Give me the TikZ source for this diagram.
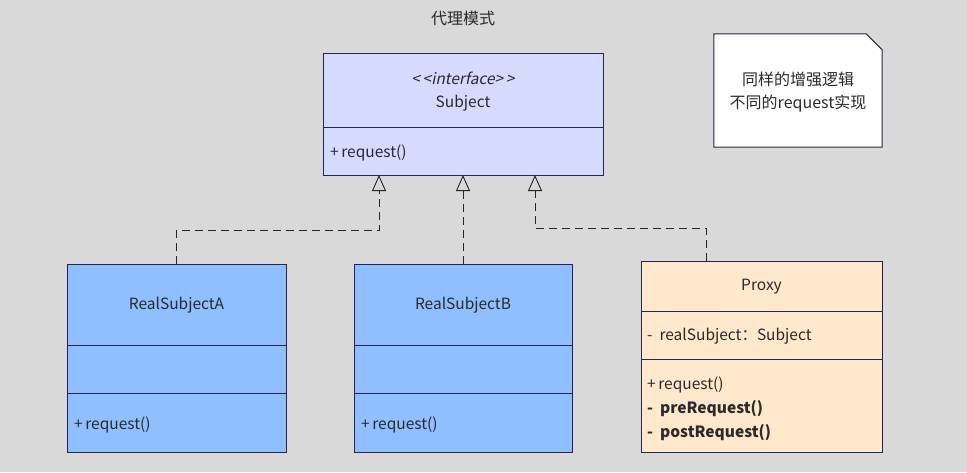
\documentclass[tikz,border=0pt]{standalone}
\usepackage{fontspec}
\setmainfont{Noto Sans CJK SC}
\newfontfamily\itf{Noto Sans CJK SC}[FakeSlant=0.2]
\usetikzlibrary{arrows.meta}
\definecolor{bg}{HTML}{D9D9D9}
\definecolor{subj}{HTML}{D6DAFE}
\definecolor{real}{HTML}{8FBFFF}
\definecolor{prox}{HTML}{FFE8CC}
\definecolor{edge}{HTML}{25254F}
\definecolor{txt}{HTML}{2A2A2A}
\begin{document}
\begin{tikzpicture}[x=1pt,y=-1pt,
  box/.style={draw=edge,line width=1pt,inner sep=0pt,outer sep=0pt,rectangle},
  sep/.style={draw=edge,line width=1pt},
  lbl/.style={inner sep=0pt,text=txt,font=\fontsize{15.5}{18}\selectfont},
  lft/.style={lbl,anchor=west},
  dep/.style={draw=black!85,line width=0.9pt,dash pattern=on 8pt off 5pt},
  real/.style={-{Triangle[open,length=16pt,width=14pt,line width=0.9pt]},draw=black!85,line width=0.9pt}]
\useasboundingbox (0,0) rectangle (967,472);
\fill[bg] (0,0) rectangle (967,472);
\node[lbl,font=\fontsize{16}{18}\selectfont] (title) at (463,18) {代理模式};
% Subject
\node[box,fill=subj,minimum width=280pt,minimum height=122pt] (subject) at (463,114) {};
\draw[sep] (subject.west |- 0,127) -- (subject.east |- 0,127);
\node[lbl] (stereo) at (463,78) {\itf <\,<interface>\,>};
\node[lbl] (sname) at (463,103) {Subject};
\node[lft] (sop) at (330,153) {+\,request()};
% Note
\node[inner sep=0pt,minimum width=168pt,minimum height=113pt] (note) at (798,90.5) {};
\fill[white,draw=edge,line width=1pt] (note.north west) -- ([xshift=-16pt]note.north east) -- ([yshift=-16pt]note.north east) -- (note.south east) -- (note.south west) -- cycle;
\node[lbl,align=center,font=\fontsize{16}{18}\selectfont] (notetext) at (798,92) {同样的增强逻辑\\[5pt]不同的request实现};
% RealSubjectA
\node[box,fill=real,minimum width=219pt,minimum height=188pt] (ra) at (176.5,358) {};
\draw[sep] (ra.west |- 0,345) -- (ra.east |- 0,345);
\draw[sep] (ra.west |- 0,393) -- (ra.east |- 0,393);
\node[lbl] (raname) at (176.5,305) {RealSubjectA};
\node[lft] (raop) at (74,425) {+\,request()};
% RealSubjectB
\node[box,fill=real,minimum width=218pt,minimum height=188pt] (rb) at (463,358) {};
\draw[sep] (rb.west |- 0,345) -- (rb.east |- 0,345);
\draw[sep] (rb.west |- 0,393) -- (rb.east |- 0,393);
\node[lbl] (rbname) at (463,305) {RealSubjectB};
\node[lft] (rbop) at (361,425) {+\,request()};
% Proxy
\node[box,fill=prox,minimum width=241pt,minimum height=191pt] (proxy) at (761.5,356.5) {};
\draw[sep] (proxy.west |- 0,311) -- (proxy.east |- 0,311);
\draw[sep] (proxy.west |- 0,359) -- (proxy.east |- 0,359);
\node[lbl] (pname) at (761.5,287) {Proxy};
\node[lft] (pattr) at (647,336) {-\ \ realSubject：Subject};
\node[lft] (pop1) at (647,385) {+\,request()};
\node[lft] (pop2) at (647,409) {\bfseries -\ \ preRequest()};
\node[lft] (pop3) at (647,433) {\bfseries -\ \ postRequest()};
% connectors
\coordinate (ja) at (379,230);
\coordinate (jp) at (706,228);
\coordinate (jt) at (535,228);
\draw[dep] (ra.north) |- (ja) -- (ja |- 0,193);
\draw[real] (ja |- 0,193) -- (ja |- subject.south);
\draw[dep] (rb.north) -- (rb.north |- 0,193);
\draw[real] (rb.north |- 0,193) -- (subject.south);
\draw[dep] (proxy.north -| jp) -- (jp) -- (jt) -- (jt |- 0,193);
\draw[real] (jt |- 0,193) -- (jt |- subject.south);
\end{tikzpicture}
\end{document}
